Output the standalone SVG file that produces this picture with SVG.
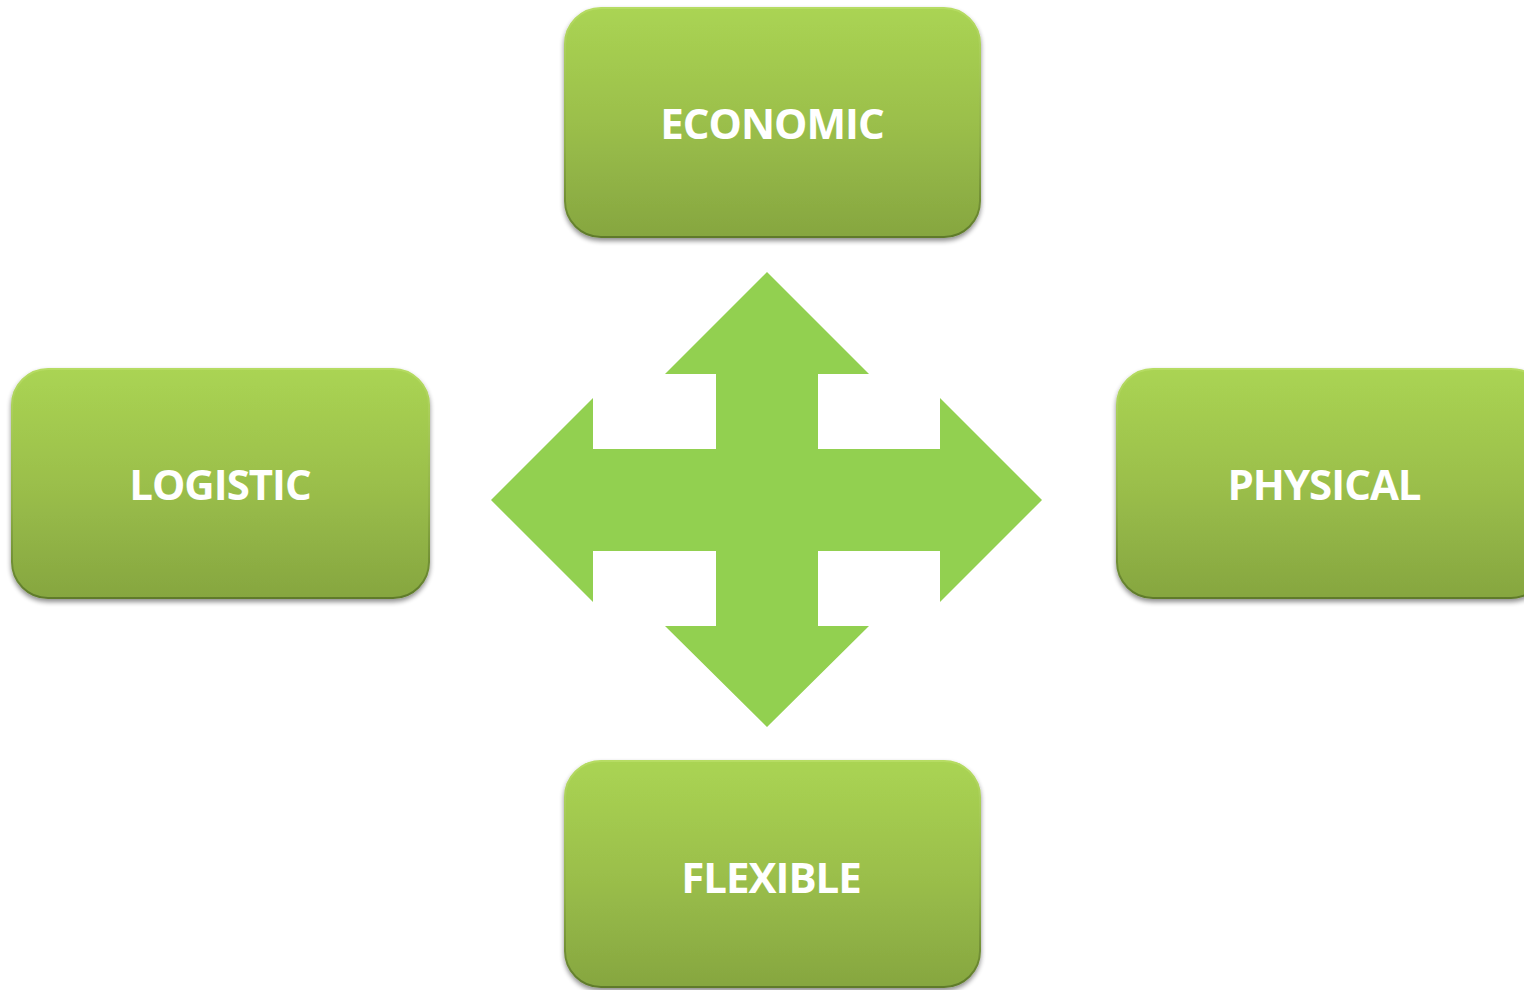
<svg xmlns="http://www.w3.org/2000/svg" width="1524" height="990" viewBox="0 0 1524 990">
  <defs>
    <linearGradient id="boxFill" x1="0" y1="0" x2="0" y2="1">
      <stop offset="0" stop-color="#AAD453"/>
      <stop offset="0.5" stop-color="#9BBF4B"/>
      <stop offset="1" stop-color="#86A640"/>
    </linearGradient>
    <linearGradient id="boxEdge" x1="0" y1="0" x2="0" y2="1">
      <stop offset="0" stop-color="#B6DC63"/>
      <stop offset="0.6" stop-color="#8FB046"/>
      <stop offset="1" stop-color="#5E7A2A"/>
    </linearGradient>
    <filter id="shadow" x="-10%" y="-10%" width="120%" height="125%">
      <feGaussianBlur in="SourceAlpha" stdDeviation="2.5"/>
      <feOffset dx="0" dy="3" result="b"/>
      <feComponentTransfer><feFuncA type="linear" slope="0.45"/></feComponentTransfer>
      <feMerge><feMergeNode/><feMergeNode in="SourceGraphic"/></feMerge>
    </filter>
  </defs>
  <style>
    .box { fill: url(#boxFill); stroke: url(#boxEdge); stroke-width: 2; filter: url(#shadow); }
    .label { font-family: "Open Sans", "Liberation Sans", sans-serif; font-weight: 700; font-size: 42px; letter-spacing: -1px; fill: #FFFFFF; text-anchor: middle; }
    .cross { fill: #92D050; }
  </style>

  <rect width="1524" height="990" fill="#FFFFFF"/>

  <!-- four-way arrow in the middle -->
  <g id="connectors">
    <path class="cross" d="M767,272 L869,374 L818,374 L818,449 L940,449 L940,398 L1042,500 L940,602 L940,551 L818,551 L818,626 L869,626 L767,727 L665,626 L716,626 L716,551 L593,551 L593,602 L491,500 L593,398 L593,449 L716,449 L716,374 L665,374 Z"/>
  </g>

  <g id="economic">
    <rect class="box" x="565" y="8" width="415" height="229" rx="36"/>
    <text class="label" x="772" y="139">ECONOMIC</text>
  </g>

  <g id="logistic">
    <rect class="box" x="12" y="369" width="417" height="229" rx="36"/>
    <text class="label" x="220" y="500">LOGISTIC</text>
  </g>

  <g id="physical">
    <rect class="box" x="1117" y="369" width="430" height="229" rx="36"/>
    <text class="label" x="1324" y="500">PHYSICAL</text>
  </g>

  <g id="flexible">
    <rect class="box" x="565" y="761" width="415" height="226" rx="36"/>
    <text class="label" x="771" y="893">FLEXIBLE</text>
  </g>
</svg>
